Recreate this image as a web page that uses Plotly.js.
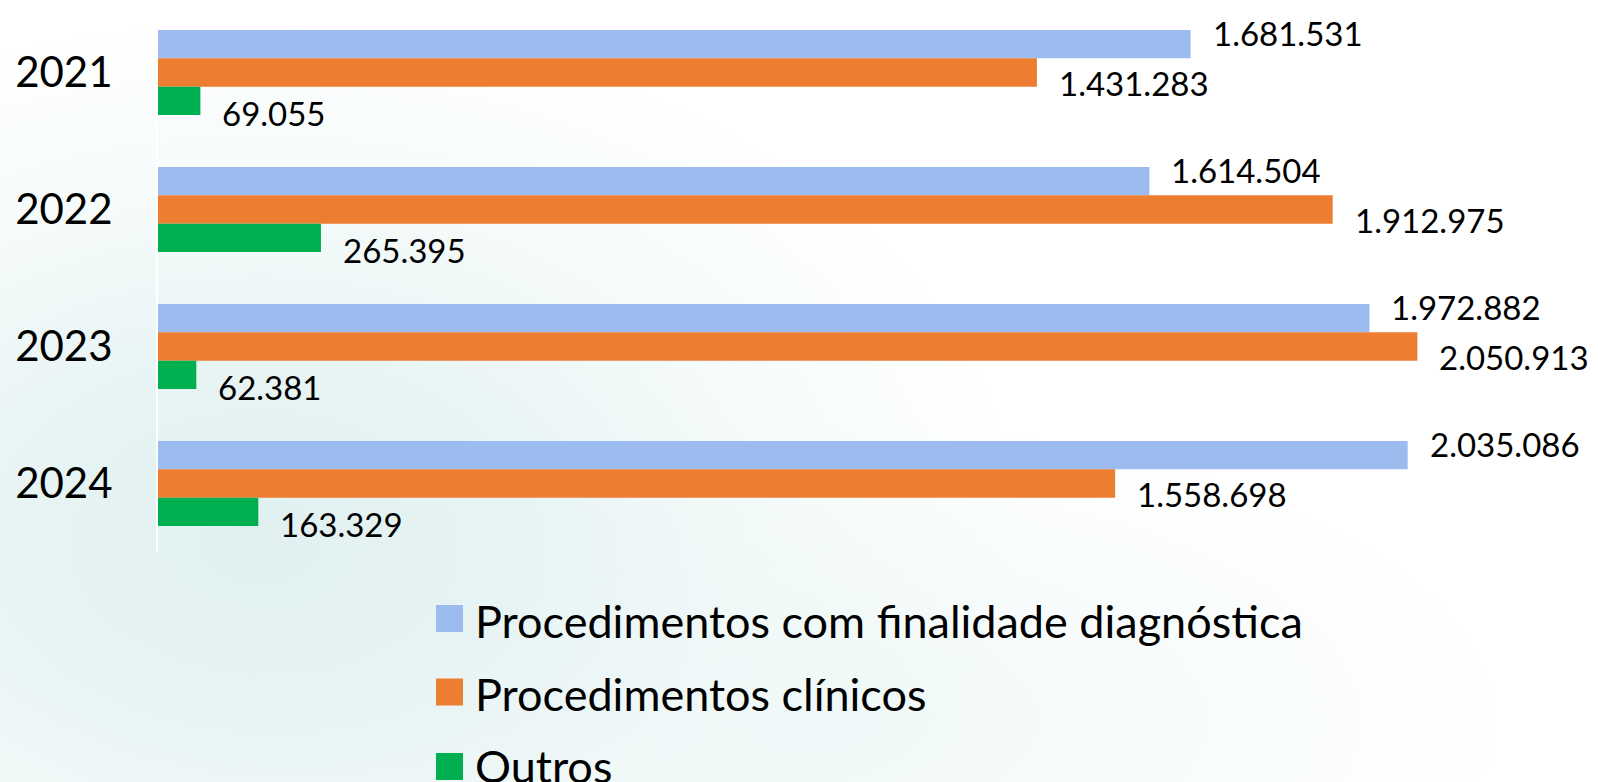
<!DOCTYPE html>
<html>
<head>
<meta charset="utf-8">
<script src="https://cdn.plot.ly/plotly-3.0.1.min.js"></script>
<style>
  html, body { margin: 0; padding: 0; width: 1598px; height: 782px; overflow: hidden; }
  body {
    background:
      radial-gradient(ellipse 760px 520px at 260px 540px, rgba(224,240,240,1) 0%, rgba(230,243,243,0.9) 35%, rgba(238,247,247,0.6) 65%, rgba(255,255,255,0) 100%),
      radial-gradient(ellipse 700px 300px at 800px 720px, rgba(236,246,246,0.8) 0%, rgba(255,255,255,0) 100%),
      #ffffff;
  }
  #chart { width: 1598px; height: 782px; }
</style>
</head>
<body>
<div id="chart"></div>
<script>
// ---- data ----
const years = ['2021', '2022', '2023', '2024'];
const diagnostica = [1681531, 1614504, 1972882, 2035086];
const clinicos = [1431283, 1912975, 2050913, 1558698];
const outros = [69055, 265395, 62381, 163329];
const seriesNames = ['Procedimentos com finalidade diagnóstica', 'Procedimentos clínicos', 'Outros'];

// ---- styling ----
const colors = ['#9cbcf0', '#ed7d31', '#00b050'];
const FONT = 'Lato, "Open Sans", sans-serif';
const W = 1598, H = 782;
const M = { l: 158, r: 0, t: 4, b: 230 };
const plotW = W - M.l - M.r, plotH = H - M.t - M.b;
const px2x = px => (px - M.l) / plotW;
const px2y = py => (H - M.b - py) / plotH;

const seriesValues = [diagnostica, clinicos, outros];
const fmt = v => String(v).replace(/\B(?=(\d{3})+(?!\d))/g, '.');

const traces = seriesValues.map((vals, s) => ({
  type: 'bar',
  orientation: 'h',
  name: seriesNames[s],
  y: years,
  x: vals,
  marker: { color: colors[s], line: { width: 0 } },
  hoverinfo: 'x+y+name',
  showlegend: false
}));

// data labels: anchored at each bar's value (category index on y), nudged per series
const labelYShift = [40, -10, -40];
const annotations = [];
seriesValues.forEach((vals, s) => {
  vals.forEach((v, i) => {
    annotations.push({
      x: v, y: i, xref: 'x', yref: 'y',
      text: fmt(v), showarrow: false,
      xanchor: 'left', yanchor: 'middle',
      xshift: 20, yshift: labelYShift[s],
      font: { family: FONT, size: 33, color: '#000000' }
    });
  });
});

// legend drawn as squares + text below the plot
const shapes = [];
const legRowsPx = [618.5, 692, 766.5];
const legTextNudge = [2, 2, -1];
const sq = 27, sqLeft = 436;
seriesNames.forEach((nm, s) => {
  const cy = legRowsPx[s];
  shapes.push({
    type: 'rect', xref: 'paper', yref: 'paper',
    x0: px2x(sqLeft), x1: px2x(sqLeft + sq),
    y0: px2y(cy + sq / 2), y1: px2y(cy - sq / 2),
    fillcolor: colors[s], line: { width: 0 }
  });
  annotations.push({
    x: px2x(sqLeft + sq + 10), y: px2y(cy + legTextNudge[s]), xref: 'paper', yref: 'paper',
    text: nm, showarrow: false, xanchor: 'left', yanchor: 'middle',
    font: { family: FONT, size: 45, color: '#000000' }
  });
});

const layout = {
  width: W, height: H,
  margin: { l: M.l, r: M.r, t: M.t, b: M.b, pad: 0 },
  paper_bgcolor: 'rgba(0,0,0,0)',
  plot_bgcolor: 'rgba(0,0,0,0)',
  barmode: 'group', bargap: 0.38, bargroupgap: 0,
  showlegend: false,
  xaxis: { range: [0, 2345000], visible: false, fixedrange: true },
  yaxis: {
    type: 'category', range: [3.5, -0.5], autorange: false,
    showline: true, linecolor: '#ffffff', linewidth: 2,
    showgrid: false, zeroline: false, ticks: '',
    ticklabelstandoff: 35,
    tickfont: { family: FONT, size: 42, color: '#000000' },
    fixedrange: true
  },
  shapes: shapes,
  annotations: annotations
};

Plotly.newPlot('chart', traces, layout, { displayModeBar: false });
</script>
</body>
</html>
